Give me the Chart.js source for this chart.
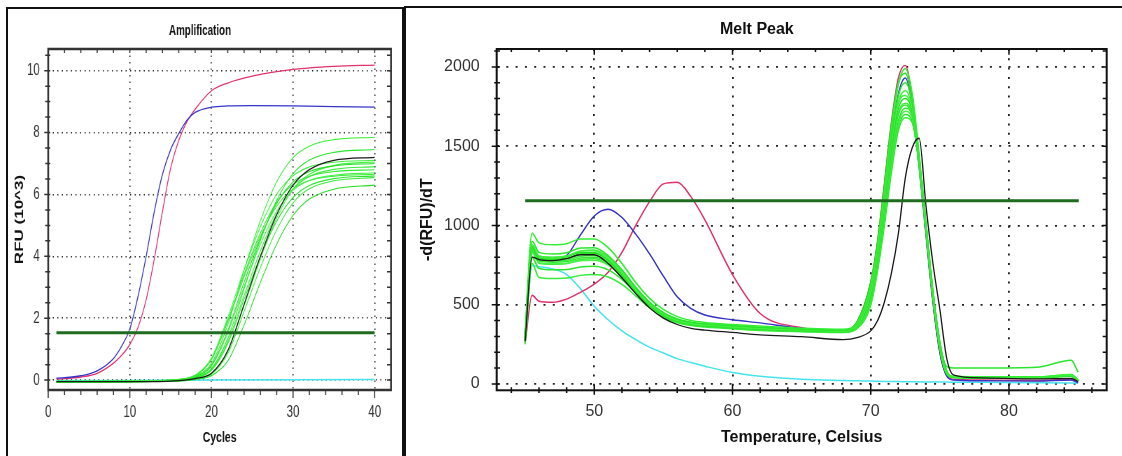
<!DOCTYPE html>
<html lang="en">
<head>
<meta charset="UTF-8">
<title>Amplification / Melt Peak</title>
<script src="https://cdn.jsdelivr.net/npm/chart.js"></script>
<style>
  body { margin: 0; background: #fff; width: 1122px; height: 456px; overflow: hidden; position: relative; }
  .panel { position: absolute; box-sizing: border-box; border: 2px solid #111; background: #fff; }
  #ampBox { left: 6px; top: 7px; width: 398px; height: 470px; }
  #meltBox { left: 404px; top: 6px; width: 730px; height: 470px; }
  /* the amplification panel is a squeezed screenshot, so draw wide and compress */
  #ampChart { position: absolute; left: 9px; top: 10px; width: 560px; height: 446px; transform: scaleX(0.7); transform-origin: 0 0; }
  #meltChart { position: absolute; left: 407px; top: 9px; width: 715px; height: 447px; }
</style>
</head>
<body>
<div class="panel" id="ampBox"></div>
<div class="panel" id="meltBox"></div>
<canvas id="ampChart" width="560" height="446"></canvas>
<canvas id="meltChart" width="715" height="447"></canvas>

<script>
// ---------- Amplification (RFU x 10^3 vs cycle) ----------
const ampXMajor = [0, 10, 20, 30, 40];
const ampXMinor = [0, 2, 4, 6, 8, 10, 12, 14, 16, 18, 20, 22, 24, 26, 28, 30, 32, 34, 36, 38, 40];
const ampYMajor = [0, 2, 4, 6, 8, 10];
const ampYMinor = [0, 0.5, 1, 1.5, 2, 2.5, 3, 3.5, 4, 4.5, 5, 5.5, 6, 6.5, 7, 7.5, 8, 8.5, 9, 9.5, 10, 10.5];

const cyclesFast = [1, 4, 6, 8, 9, 10, 11, 12, 13, 14, 15, 16, 17, 18, 20, 22, 25, 30, 35, 40];
const ampBlue = [0.06, 0.14, 0.3, 0.7, 1.1, 1.65, 2.7, 4.0, 5.45, 6.65, 7.45, 7.97, 8.4, 8.65, 8.82, 8.86, 8.87, 8.86, 8.84, 8.82];
const ampPink = [0.03, 0.1, 0.22, 0.55, 0.8, 1.15, 1.7, 2.6, 3.92, 5.45, 6.85, 7.75, 8.35, 8.75, 9.35, 9.6, 9.82, 10.04, 10.14, 10.18];

const cyclesSlow = [1, 10, 15, 18, 20, 22, 24, 26, 28, 30, 32, 35, 40];
const ampBlack = [-0.05, -0.05, -0.03, 0.05, 0.22, 0.95, 2.45, 4.0, 5.35, 6.3, 6.8, 7.1, 7.2];
const ampGreens = [
  [-0.06, -0.05, 0.00, 0.13, 0.54, 1.79, 3.55, 5.15, 6.41, 7.19, 7.56, 7.77, 7.85],
  [-0.07, -0.05, -0.02, 0.08, 0.37, 1.34, 2.95, 4.52, 5.81, 6.67, 7.11, 7.36, 7.45],
  [-0.04, -0.03, 0.00, 0.16, 0.71, 2.02, 3.57, 4.96, 6.01, 6.60, 6.89, 7.04, 7.10],
  [-0.08, -0.06, -0.01, 0.11, 0.48, 1.60, 3.16, 4.58, 5.71, 6.40, 6.74, 6.92, 7.00],
  [-0.05, -0.04, -0.02, 0.07, 0.34, 1.24, 2.73, 4.18, 5.38, 6.17, 6.58, 6.81, 6.90],
  [-0.06, -0.04, 0.00, 0.15, 0.68, 1.93, 3.42, 4.75, 5.75, 6.32, 6.59, 6.74, 6.80],
  [-0.07, -0.05, -0.01, 0.10, 0.45, 1.52, 3.02, 4.39, 5.46, 6.13, 6.45, 6.62, 6.70],
  [-0.05, -0.04, -0.02, 0.07, 0.32, 1.18, 2.61, 4.00, 5.14, 5.90, 6.29, 6.51, 6.60],
  [-0.06, -0.05, -0.03, 0.04, 0.19, 0.86, 2.22, 3.64, 4.86, 5.73, 6.18, 6.44, 6.55],
  [-0.04, -0.04, -0.04, 0.02, 0.14, 0.62, 1.78, 3.16, 4.40, 5.32, 5.85, 6.17, 6.30],
  [-0.07, -0.05, -0.03, 0.05, 0.21, 0.93, 2.40, 3.92, 5.24, 6.17, 6.65, 6.94, 7.05],
  [-0.05, -0.04, 0.00, 0.15, 0.66, 1.89, 3.34, 4.65, 5.62, 6.18, 6.45, 6.59, 6.65]
];
const cyclesNtc = [1, 10, 20, 30, 40];
const ampNtc = [-0.02, -0.01, 0.0, 0.01, 0.02];
const ampThresholdX = [1, 40];
const ampThresholdY = [1.53, 1.53];

// ---------- Melt Peak (-d(RFU)/dT vs temperature) ----------
const meltXMajor = [50, 60, 70, 80];
const meltXMinor = [44, 46, 48, 50, 52, 54, 56, 58, 60, 62, 64, 66, 68, 70, 72, 74, 76, 78, 80, 82, 84, 86];
const meltYMajor = [0, 500, 1000, 1500, 2000];
const meltYMinor = [0, 100, 200, 300, 400, 500, 600, 700, 800, 900, 1000, 1100, 1200, 1300, 1400, 1500, 1600, 1700, 1800, 1900, 2000, 2100];

const temps = [45, 45.5, 46, 47, 48, 49, 50, 51, 52, 53, 54, 55, 56, 57, 58, 60, 62, 65, 68, 69,
               70, 70.5, 71, 71.5, 72, 72.5, 73, 73.5, 74, 74.5, 75, 75.5, 76, 78, 82, 84.5, 85];
const meltPink = [260, 560, 522, 515, 535, 578, 630, 705, 830, 1000, 1150, 1262, 1272, 1180, 1035, 690, 445, 355, 335, 390,
                  640, 900, 1270, 1650, 1930, 2010, 1800, 1420, 950, 520, 200, 55, 30, 25, 22, 28, 10];
const meltBlue = [290, 830, 790, 782, 810, 940, 1060, 1102, 1050, 945, 820, 680, 550, 475, 435, 405, 385, 350, 335, 370,
                  560, 820, 1180, 1560, 1830, 1930, 1760, 1370, 940, 520, 200, 50, 25, 20, 18, 25, 8];
const meltBlack = [270, 800, 785, 778, 790, 815, 815, 760, 670, 570, 480, 415, 375, 350, 340, 325, 310, 298, 280, 292,
                   335, 400, 520, 700, 950, 1300, 1490, 1550, 1120, 760, 470, 160, 55, 38, 32, 35, 15];
const meltCyan = [280, 745, 740, 725, 690, 600, 490, 405, 335, 280, 232, 195, 160, 135, 112, 72, 48, 30, 22, 20,
                  18, 17, 16, 15, 15, 14, 14, 13, 13, 13, 12, 12, 11, 10, 8, 6, 5];
const meltGreens = [
  [330, 950, 890, 878, 885, 915, 915, 860, 760, 640, 540, 470, 425, 400, 388, 375, 365, 352, 345, 385, 620, 870, 1230, 1610, 1890, 1990, 1830, 1450, 990, 560, 230, 70, 48, 45, 45, 60, 25],
  [310, 900, 830, 820, 828, 858, 860, 810, 720, 610, 515, 450, 410, 390, 380, 368, 358, 345, 338, 378, 600, 850, 1200, 1560, 1820, 1900, 1770, 1420, 990, 570, 250, 110, 100, 100, 105, 150, 75],
  [300, 880, 808, 800, 808, 838, 840, 790, 700, 595, 505, 440, 400, 380, 372, 360, 350, 340, 333, 370, 580, 830, 1170, 1530, 1780, 1850, 1740, 1400, 980, 560, 240, 70, 45, 42, 42, 55, 22],
  [290, 860, 792, 785, 792, 820, 825, 780, 690, 585, 495, 432, 395, 375, 367, 355, 345, 336, 330, 365, 560, 810, 1140, 1490, 1740, 1800, 1720, 1390, 975, 555, 235, 68, 42, 40, 40, 52, 20],
  [285, 850, 782, 775, 780, 805, 810, 770, 685, 580, 490, 428, 392, 372, 364, 352, 342, 333, 328, 362, 550, 790, 1110, 1460, 1710, 1770, 1700, 1380, 970, 550, 232, 66, 40, 38, 38, 50, 18],
  [280, 840, 775, 768, 772, 795, 800, 765, 690, 590, 500, 435, 398, 378, 370, 358, 348, 338, 330, 355, 520, 750, 1060, 1400, 1660, 1740, 1700, 1420, 1000, 580, 260, 80, 45, 42, 42, 55, 22],
  [275, 830, 765, 758, 760, 778, 780, 750, 680, 585, 498, 432, 395, 375, 366, 354, 344, 335, 328, 352, 510, 740, 1050, 1380, 1640, 1720, 1680, 1410, 995, 575, 255, 78, 44, 40, 40, 52, 20],
  [265, 800, 728, 720, 722, 738, 742, 720, 660, 575, 492, 428, 392, 372, 364, 352, 342, 334, 326, 350, 505, 730, 1030, 1360, 1620, 1700, 1660, 1400, 990, 570, 250, 75, 42, 38, 38, 50, 18],
  [250, 760, 672, 665, 668, 685, 690, 675, 628, 555, 480, 420, 386, 368, 360, 348, 338, 330, 324, 348, 500, 720, 1010, 1340, 1600, 1680, 1650, 1400, 1000, 580, 260, 80, 44, 40, 40, 52, 20],
  [300, 870, 805, 798, 805, 828, 830, 785, 700, 598, 508, 445, 405, 385, 376, 364, 355, 344, 338, 390, 640, 900, 1260, 1640, 1900, 1960, 1780, 1400, 960, 540, 220, 62, 40, 38, 38, 48, 18],
  [295, 865, 798, 790, 800, 838, 845, 800, 712, 605, 512, 446, 405, 384, 375, 362, 352, 342, 335, 372, 585, 835, 1170, 1520, 1770, 1820, 1730, 1400, 985, 565, 245, 72, 46, 44, 44, 58, 24],
  [280, 835, 762, 755, 760, 785, 790, 755, 675, 578, 492, 430, 393, 373, 365, 353, 343, 334, 328, 360, 545, 785, 1100, 1450, 1700, 1760, 1690, 1390, 985, 565, 245, 72, 43, 40, 40, 52, 20]
];
const meltThresholdX = [45, 85.05];
const meltThresholdY = [1155, 1155];

const greenShades = ['#33ee33', '#2ae62a', '#44f044', '#26e026', '#3aeb3a', '#30e830',
                     '#4af24a', '#2de42d', '#38ec38', '#22dd22', '#40ef40', '#35e935'];

Chart.defaults.font.family = '"Liberation Sans", Arial, sans-serif';

function series(xs, ys, color, width) {
  return {
    data: xs.map((x, i) => ({ x: x, y: ys[i] })),
    borderColor: color,
    borderWidth: width,
    pointRadius: 0,
    fill: false,
    cubicInterpolationMode: 'monotone'
  };
}

// box round the plot and the small tick marks on all four sides
function frame(o) {
  return {
    id: 'frame',
    afterDraw(chart) {
      const { ctx, chartArea: a, scales: { x, y } } = chart;
      ctx.save();
      ctx.strokeStyle = o.color;
      ctx.lineWidth = o.tickWidth;
      ctx.beginPath();
      o.xMinor.forEach(v => {
        const p = x.getPixelForValue(v);
        const k = o.xMajor.includes(v) ? 0 : 1;
        ctx.moveTo(p, a.bottom - o.bIn[k]);
        ctx.lineTo(p, a.bottom + o.bOut[k]);
        ctx.moveTo(p, a.top);
        ctx.lineTo(p, a.top + o.tIn[k]);
      });
      o.yMinor.forEach(v => {
        const p = y.getPixelForValue(v);
        const k = o.yMajor.includes(v) ? 0 : 1;
        ctx.moveTo(a.left - o.lOut[k], p);
        ctx.lineTo(a.left + o.lIn[k], p);
        ctx.moveTo(a.right, p);
        ctx.lineTo(a.right - o.rIn[k], p);
      });
      ctx.stroke();
      ctx.lineWidth = o.width;
      ctx.strokeRect(a.left, a.top, a.right - a.left, a.bottom - a.top);
      ctx.restore();
    }
  };
}

// ----- left chart -----
const ampSets = [series(ampThresholdX, ampThresholdY, '#1f6b1f', 3)];
ampSets[0].cubicInterpolationMode = 'default';
ampSets.push(series(cyclesSlow, ampBlack, '#1a1a1a', 1.3));
ampSets.push(series(cyclesFast, ampBlue, '#3434c8', 1.3));
ampSets.push(series(cyclesFast, ampPink, '#e0306e', 1.3));
ampGreens.forEach((g, i) => ampSets.push(series(cyclesSlow, g, greenShades[i], 1.1)));
ampSets.push(series(cyclesNtc, ampNtc, '#45e3f0', 1.5));

new Chart(document.getElementById('ampChart'), {
  type: 'line',
  data: { datasets: ampSets },
  options: {
    responsive: false,
    animation: false,
    layout: { padding: { left: 0, right: 14.3, top: 0, bottom: 0 } },
    plugins: {
      legend: { display: false },
      tooltip: { enabled: false },
      title: { display: true, text: 'Amplification', color: '#111',
               font: { size: 14, weight: 'bold' }, padding: { top: 12.6, bottom: 9.6 } }
    },
    scales: {
      x: {
        type: 'linear', min: 0, max: 42,
        afterBuildTicks: s => { s.ticks = ampXMajor.map(v => ({ value: v })); },
        afterFit: s => { s.height = 66; },
        ticks: { padding: 13, color: '#333', font: { size: 16.5 }, maxRotation: 0, autoSkip: false, callback: v => String(v) },
        grid: { color: '#222', lineWidth: 1.5, drawTicks: false },
        border: { display: false, dash: [1.5, 5] },
        title: { display: true, text: 'Cycles', color: '#111', font: { size: 15, weight: 'bold' }, padding: { top: 0, bottom: 9 } }
      },
      y: {
        type: 'linear', min: -0.32, max: 10.7,
        afterBuildTicks: s => { s.ticks = ampYMajor.map(v => ({ value: v })); },
        afterFit: s => { s.width = 56; },
        ticks: { padding: 12, color: '#333', font: { size: 16.5 }, autoSkip: false, callback: v => String(v) },
        grid: { color: '#222', lineWidth: 1.5, drawTicks: false },
        border: { display: false, dash: [1.5, 5] },
        title: { display: true, text: 'RFU (10^3)', color: '#111', font: { size: 17, weight: 'bold' }, padding: { top: 5.5, bottom: 0 } }
      }
    }
  },
  plugins: [frame({
    color: '#333', width: 2.5, tickWidth: 1.5,
    xMajor: ampXMajor, xMinor: ampXMinor, yMajor: ampYMajor, yMinor: ampYMinor,
    bIn: [0, 0], bOut: [8, 5], tIn: [4, 4], lOut: [5.7, 4.3], lIn: [3, 3], rIn: [5.7, 5.7]
  })]
});

// ----- right chart -----
const meltSets = [series(meltThresholdX, meltThresholdY, '#1f6b1f', 3)];
meltSets[0].cubicInterpolationMode = 'default';
meltSets.push(series(temps, meltBlack, '#1a1a1a', 1.3));
meltGreens.forEach((g, i) => meltSets.push(series(temps, g, greenShades[i], 1.5)));
meltSets.push(series(temps, meltBlue, '#3434c8', 1.4));
meltSets.push(series(temps, meltPink, '#e0306e', 1.4));
meltSets.push(series(temps, meltCyan, '#45e3f0', 1.5));

new Chart(document.getElementById('meltChart'), {
  type: 'line',
  data: { datasets: meltSets },
  options: {
    responsive: false,
    animation: false,
    layout: { padding: { left: 0, right: 15.3, top: 0, bottom: 0 } },
    plugins: {
      legend: { display: false },
      tooltip: { enabled: false },
      title: { display: true, text: 'Melt Peak', color: '#111',
               font: { size: 16, weight: 'bold' }, padding: { top: 11.4, bottom: 9.4 } }
    },
    scales: {
      x: {
        type: 'linear', min: 42.94, max: 87.07,
        afterBuildTicks: s => { s.ticks = meltXMajor.map(v => ({ value: v })); },
        afterFit: s => { s.height = 65.7; },
        ticks: { padding: 12, color: '#333', font: { size: 16 }, maxRotation: 0, autoSkip: false, callback: v => String(v) },
        grid: { color: '#222', lineWidth: 1.8, drawTicks: false },
        border: { display: false, dash: [2, 7.3] },
        title: { display: true, text: 'Temperature, Celsius', color: '#111', font: { size: 16, weight: 'bold' }, padding: { top: 0, bottom: 8.4 } }
      },
      y: {
        type: 'linear', min: -40, max: 2113,
        afterBuildTicks: s => { s.ticks = meltYMajor.map(v => ({ value: v })); },
        afterFit: s => { s.width = 89.7; },
        ticks: { padding: 17, color: '#333', font: { size: 16 }, autoSkip: false, callback: v => String(v) },
        grid: { color: '#222', lineWidth: 1.8, drawTicks: false },
        border: { display: false, dash: [2, 7.3] },
        title: { display: true, text: '-d(RFU)/dT', color: '#111', font: { size: 16, weight: 'bold' }, padding: { top: 11.4, bottom: 0 } }
      }
    }
  },
  plugins: [frame({
    color: '#111', width: 2, tickWidth: 1.5,
    xMajor: meltXMajor, xMinor: meltXMinor, yMajor: meltYMajor, yMinor: meltYMinor,
    bIn: [5.6, 3], bOut: [4.4, 2.7], tIn: [5.7, 3], lOut: [5, 2.5], lIn: [3.3, 3.3], rIn: [4.5, 4]
  })]
});
</script>
</body>
</html>
